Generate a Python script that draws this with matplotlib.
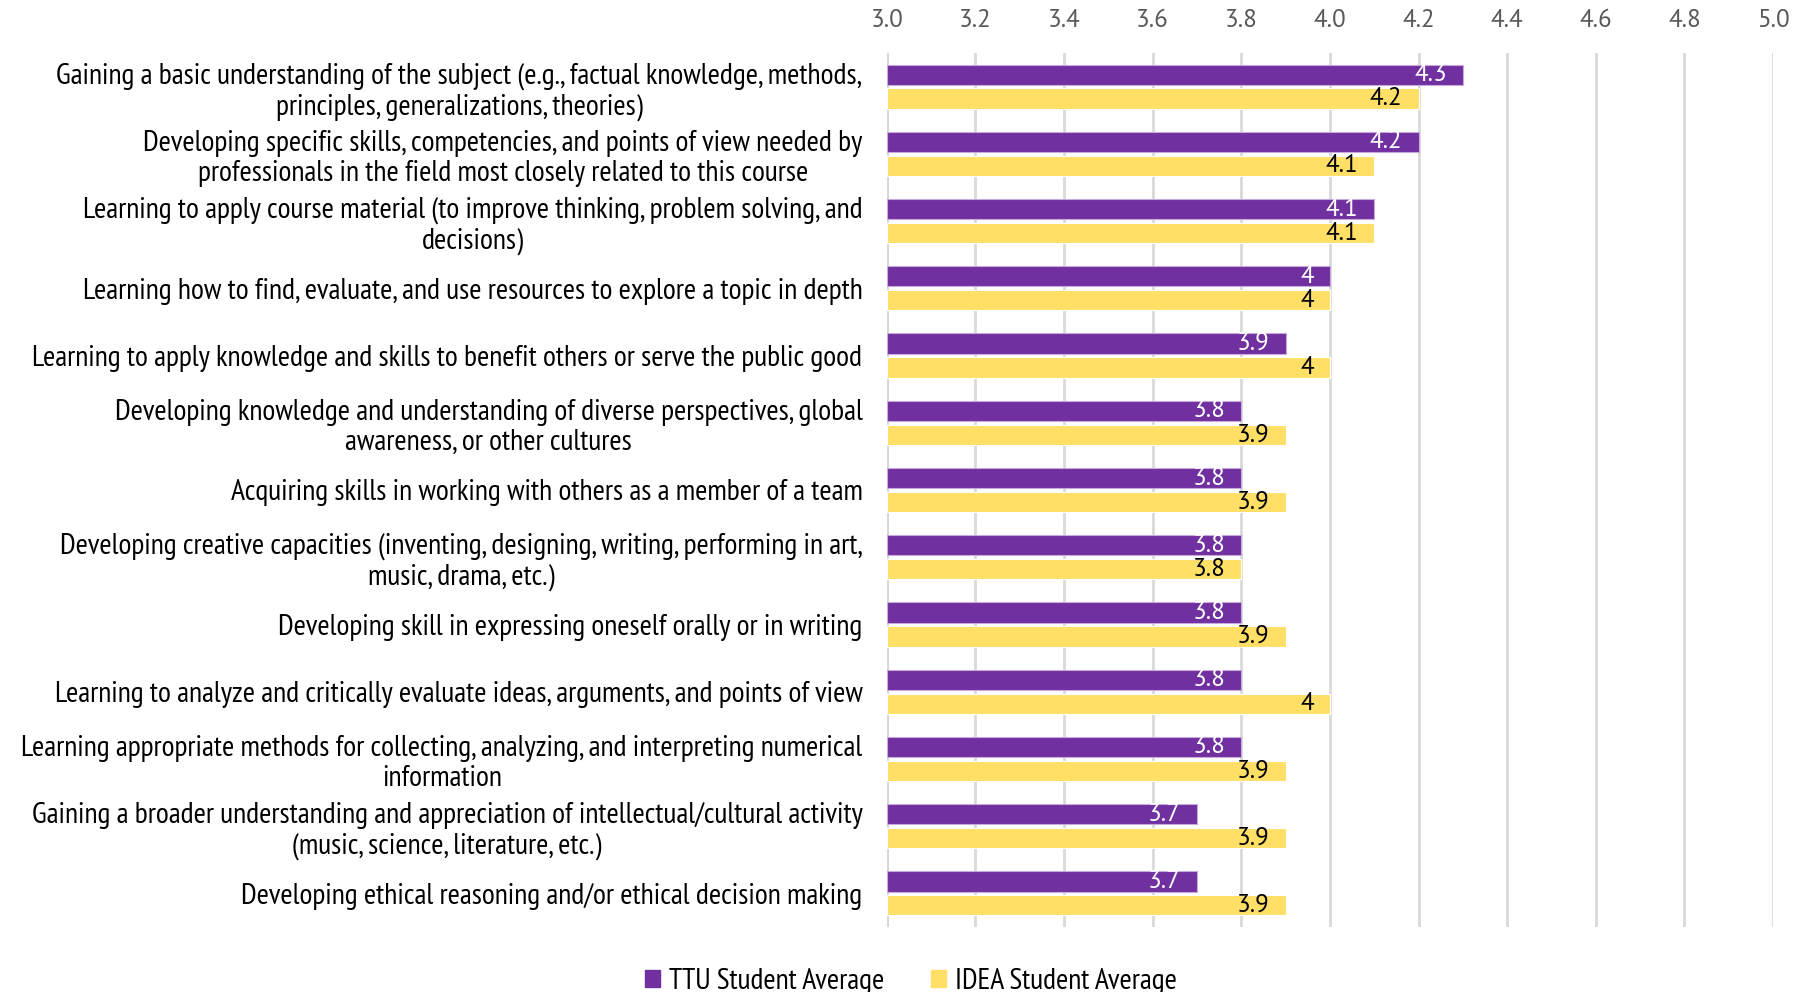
import matplotlib
matplotlib.use("Agg")
import matplotlib.pyplot as plt
from matplotlib.patches import Patch

categories = [
    "Gaining a basic understanding of the subject (e.g., factual knowledge, methods,\nprinciples, generalizations, theories)",
    "Developing specific skills, competencies, and points of view needed by\nprofessionals in the field most closely related to this course",
    "Learning to apply course material (to improve thinking, problem solving, and\ndecisions)",
    "Learning how to find, evaluate, and use resources to explore a topic in depth",
    "Learning to apply knowledge and skills to benefit others or serve the public good",
    "Developing knowledge and understanding of diverse perspectives, global\nawareness, or other cultures",
    "Acquiring skills in working with others as a member of a team",
    "Developing creative capacities (inventing, designing, writing, performing in art,\nmusic, drama, etc.)",
    "Developing skill in expressing oneself orally or in writing",
    "Learning to analyze and critically evaluate ideas, arguments, and points of view",
    "Learning appropriate methods for collecting, analyzing, and interpreting numerical\ninformation",
    "Gaining a broader understanding and appreciation of intellectual/cultural activity\n(music, science, literature, etc.)",
    "Developing ethical reasoning and/or ethical decision making",
]
ttu_avg = [4.3, 4.2, 4.1, 4.0, 3.9, 3.8, 3.8, 3.8, 3.8, 3.8, 3.8, 3.7, 3.7]
idea_avg = [4.2, 4.1, 4.1, 4.0, 4.0, 3.9, 3.9, 3.8, 3.9, 4.0, 3.9, 3.9, 3.9]
ticks = [3.0, 3.2, 3.4, 3.6, 3.8, 4.0, 4.2, 4.4, 4.6, 4.8, 5.0]

PURPLE = "#7030A0"
YELLOW = "#FFDF66"
NARROW = ["PT Sans Narrow", "DejaVu Sans"]
NUMS = ["PT Sans", "DejaVu Sans"]

plt.rcParams["font.family"] = NARROW

fig = plt.figure(figsize=(18.09, 9.92), dpi=100)
ax = fig.add_axes([0.4902, 0.0655, 0.4899, 0.8811])

h = 0.30
off = 0.178
base = 3.0
for i, (a, b) in enumerate(zip(ttu_avg, idea_avg)):
    ax.barh(i - off, a - base, left=base, height=h, color=PURPLE,
            edgecolor="#C9A8E0", linewidth=0.8, zorder=3)
    ax.barh(i + off, b - base, left=base, height=h, color=YELLOW,
            edgecolor="white", linewidth=0.8, zorder=3)
    ax.text(a - 0.036, i - off, f"{a:g}", ha="right", va="center",
            color="white", fontsize=18, family=NUMS, zorder=4)
    ax.text(b - 0.036, i + off, f"{b:g}", ha="right", va="center",
            color="black", fontsize=18, family=NUMS, zorder=4)

ax.set_xlim(3.0, 5.0)
ax.set_ylim(len(categories) - 0.5, -0.5)
ax.set_xticks(ticks)
ax.set_xticklabels([f"{t:.1f}" for t in ticks], family=NUMS)
ax.xaxis.tick_top()
ax.tick_params(axis="x", length=0, pad=15, labelsize=18, labelcolor="#595959")
ax.set_yticks(range(len(categories)))
ax.set_yticklabels(categories, fontsize=21.4, linespacing=1.16,
                   multialignment="center")
ax.tick_params(axis="y", length=0, pad=17.5)
ax.grid(axis="x", color="#D9D9D9", linewidth=2, zorder=0)
for s in ax.spines.values():
    s.set_visible(False)
ax.axvline(3.0, color="#BFBFBF", linewidth=2, zorder=1)

handles = [Patch(color=PURPLE, label="TTU Student Average"),
           Patch(color=YELLOW, label="IDEA Student Average")]
fig.legend(handles=handles, loc="center", bbox_to_anchor=(0.5036, 0.011),
           ncol=2, frameon=False, fontsize=21.3, handlelength=0.5,
           handleheight=0.5, handletextpad=0.3, columnspacing=1.6,
           borderpad=0, borderaxespad=0)

fig.savefig("out.png", dpi=100)
